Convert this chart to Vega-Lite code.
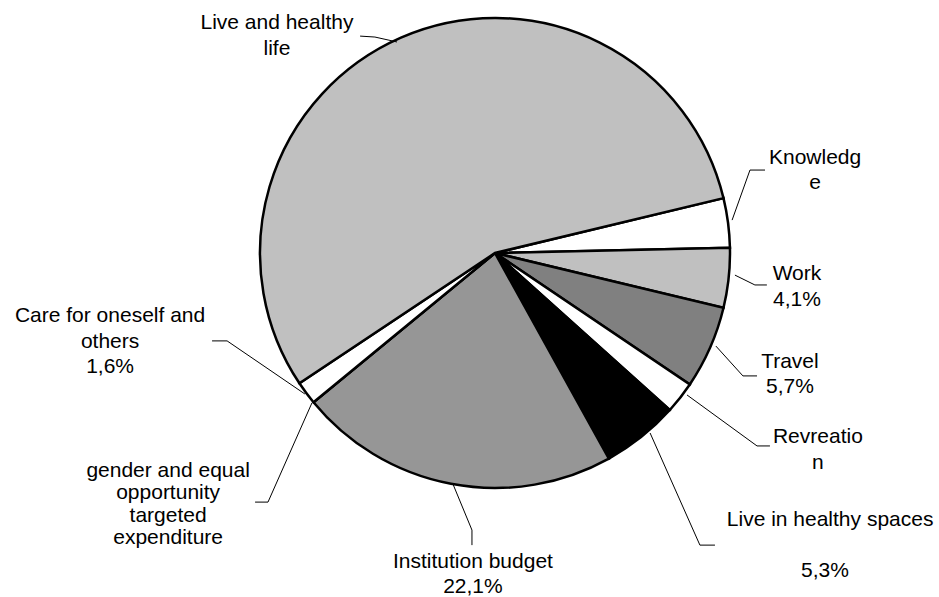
{
  "$schema": "https://vega.github.io/schema/vega-lite/v6.json",
  "width": 939,
  "height": 597,
  "autosize": "none",
  "padding": 0,
  "background": "white",
  "config": {"view": {"stroke": null}},
  "datasets": {
    "slices": [
      {"cat": "Knowledge", "value": 3.4, "ord": 1},
      {"cat": "Work", "value": 4.1, "ord": 2},
      {"cat": "Travel", "value": 5.7, "ord": 3},
      {"cat": "Revreation", "value": 2.2, "ord": 4},
      {"cat": "Live in healthy spaces", "value": 5.3, "ord": 5},
      {"cat": "Institution budget", "value": 22.1, "ord": 6},
      {"cat": "gender and equal opportunity targeted expenditure", "value": 0, "ord": 7},
      {"cat": "Care for oneself and others", "value": 1.6, "ord": 8},
      {"cat": "Live and healthy life", "value": 55.6, "ord": 9}
    ],
    "labels": [
      {"txt": "Live and healthy\nlife", "lx": -0.928, "ly": 0.953},
      {"txt": "Knowledg\ne", "lx": 1.362, "ly": 0.379},
      {"txt": "Work\n4,1%", "lx": 1.285, "ly": -0.115},
      {"txt": "Travel\n5,7%", "lx": 1.255, "ly": -0.489},
      {"txt": "Revreatio\nn", "lx": 1.374, "ly": -0.809},
      {"txt": "Live in healthy spaces", "lx": 1.426, "ly": -1.162},
      {"txt": "5,3%", "lx": 1.404, "ly": -1.379},
      {"txt": "Institution budget\n22,1%", "lx": -0.094, "ly": -1.34},
      {"txt": "Care for oneself and\nothers\n1,6%", "lx": -1.638, "ly": -0.294}
    ],
    "labels2": [
      {"txt": "gender and equal\nopportunity\ntargeted\nexpenditure", "lx": -1.391, "ly": -0.953}
    ],
    "leaders": [
      {"id": "live", "seq": 1, "lx": -0.574, "ly": 0.923},
      {"id": "live", "seq": 2, "lx": -0.511, "ly": 0.919},
      {"id": "live", "seq": 3, "lx": -0.417, "ly": 0.898},
      {"id": "know", "seq": 1, "lx": 1.149, "ly": 0.353},
      {"id": "know", "seq": 2, "lx": 1.085, "ly": 0.353},
      {"id": "know", "seq": 3, "lx": 1.009, "ly": 0.14},
      {"id": "work", "seq": 1, "lx": 1.157, "ly": -0.136},
      {"id": "work", "seq": 2, "lx": 1.106, "ly": -0.136},
      {"id": "work", "seq": 3, "lx": 1.021, "ly": -0.094},
      {"id": "travel", "seq": 1, "lx": 1.115, "ly": -0.523},
      {"id": "travel", "seq": 2, "lx": 1.055, "ly": -0.523},
      {"id": "travel", "seq": 3, "lx": 0.94, "ly": -0.396},
      {"id": "rev", "seq": 1, "lx": 1.17, "ly": -0.821},
      {"id": "rev", "seq": 2, "lx": 1.115, "ly": -0.821},
      {"id": "rev", "seq": 3, "lx": 0.817, "ly": -0.604},
      {"id": "spaces", "seq": 1, "lx": 0.936, "ly": -1.243},
      {"id": "spaces", "seq": 2, "lx": 0.872, "ly": -1.243},
      {"id": "spaces", "seq": 3, "lx": 0.66, "ly": -0.766},
      {"id": "inst", "seq": 1, "lx": -0.098, "ly": -1.243},
      {"id": "inst", "seq": 2, "lx": -0.098, "ly": -1.179},
      {"id": "inst", "seq": 3, "lx": -0.179, "ly": -0.983},
      {"id": "care", "seq": 1, "lx": -1.204, "ly": -0.374},
      {"id": "care", "seq": 2, "lx": -1.14, "ly": -0.374},
      {"id": "care", "seq": 3, "lx": -0.809, "ly": -0.6},
      {"id": "gender", "seq": 1, "lx": -1.021, "ly": -1.06},
      {"id": "gender", "seq": 2, "lx": -0.966, "ly": -1.06},
      {"id": "gender", "seq": 3, "lx": -0.779, "ly": -0.638}
    ]
  },
  "layer": [
    {
      "data": {"name": "slices"},
      "mark": {"type": "arc", "outerRadius": 235, "stroke": "black", "strokeWidth": 2.5, "strokeJoin": "miter"},
      "encoding": {
        "theta": {"field": "value", "type": "quantitative", "stack": true, "scale": {"range": [1.335, 7.6182]}},
        "order": {"field": "ord", "type": "quantitative"},
        "color": {
          "field": "cat",
          "type": "nominal",
          "legend": null,
          "scale": {
            "domain": ["Knowledge", "Work", "Travel", "Revreation", "Live in healthy spaces", "Institution budget", "gender and equal opportunity targeted expenditure", "Care for oneself and others", "Live and healthy life"],
            "range": ["#ffffff", "#c0c0c0", "#808080", "#ffffff", "#000000", "#969696", "#ffffff", "#ffffff", "#c0c0c0"]
          }
        },
        "x": {"datum": 0, "type": "quantitative", "scale": {"domain": [-2.1064, 1.8894], "nice": false, "zero": false}, "axis": null},
        "y": {"datum": 0, "type": "quantitative", "scale": {"domain": [-1.4638, 1.0766], "nice": false, "zero": false}, "axis": null}
      }
    },
    {
      "data": {"name": "leaders"},
      "mark": {"type": "line", "stroke": "black", "strokeWidth": 1},
      "encoding": {
        "x": {"field": "lx", "type": "quantitative"},
        "y": {"field": "ly", "type": "quantitative"},
        "detail": {"field": "id"},
        "order": {"field": "seq", "type": "quantitative"}
      }
    },
    {
      "data": {"name": "labels"},
      "mark": {"type": "text", "font": "Liberation Sans", "fontSize": 21, "align": "center", "baseline": "alphabetic", "lineBreak": "\n", "lineHeight": 25.5, "fill": "black"},
      "encoding": {
        "x": {"field": "lx", "type": "quantitative"},
        "y": {"field": "ly", "type": "quantitative"},
        "text": {"field": "txt"}
      }
    },
    {
      "data": {"name": "labels2"},
      "mark": {"type": "text", "font": "Liberation Sans", "fontSize": 21, "align": "center", "baseline": "alphabetic", "lineBreak": "\n", "lineHeight": 22.5, "fill": "black"},
      "encoding": {
        "x": {"field": "lx", "type": "quantitative"},
        "y": {"field": "ly", "type": "quantitative"},
        "text": {"field": "txt"}
      }
    }
  ]
}
